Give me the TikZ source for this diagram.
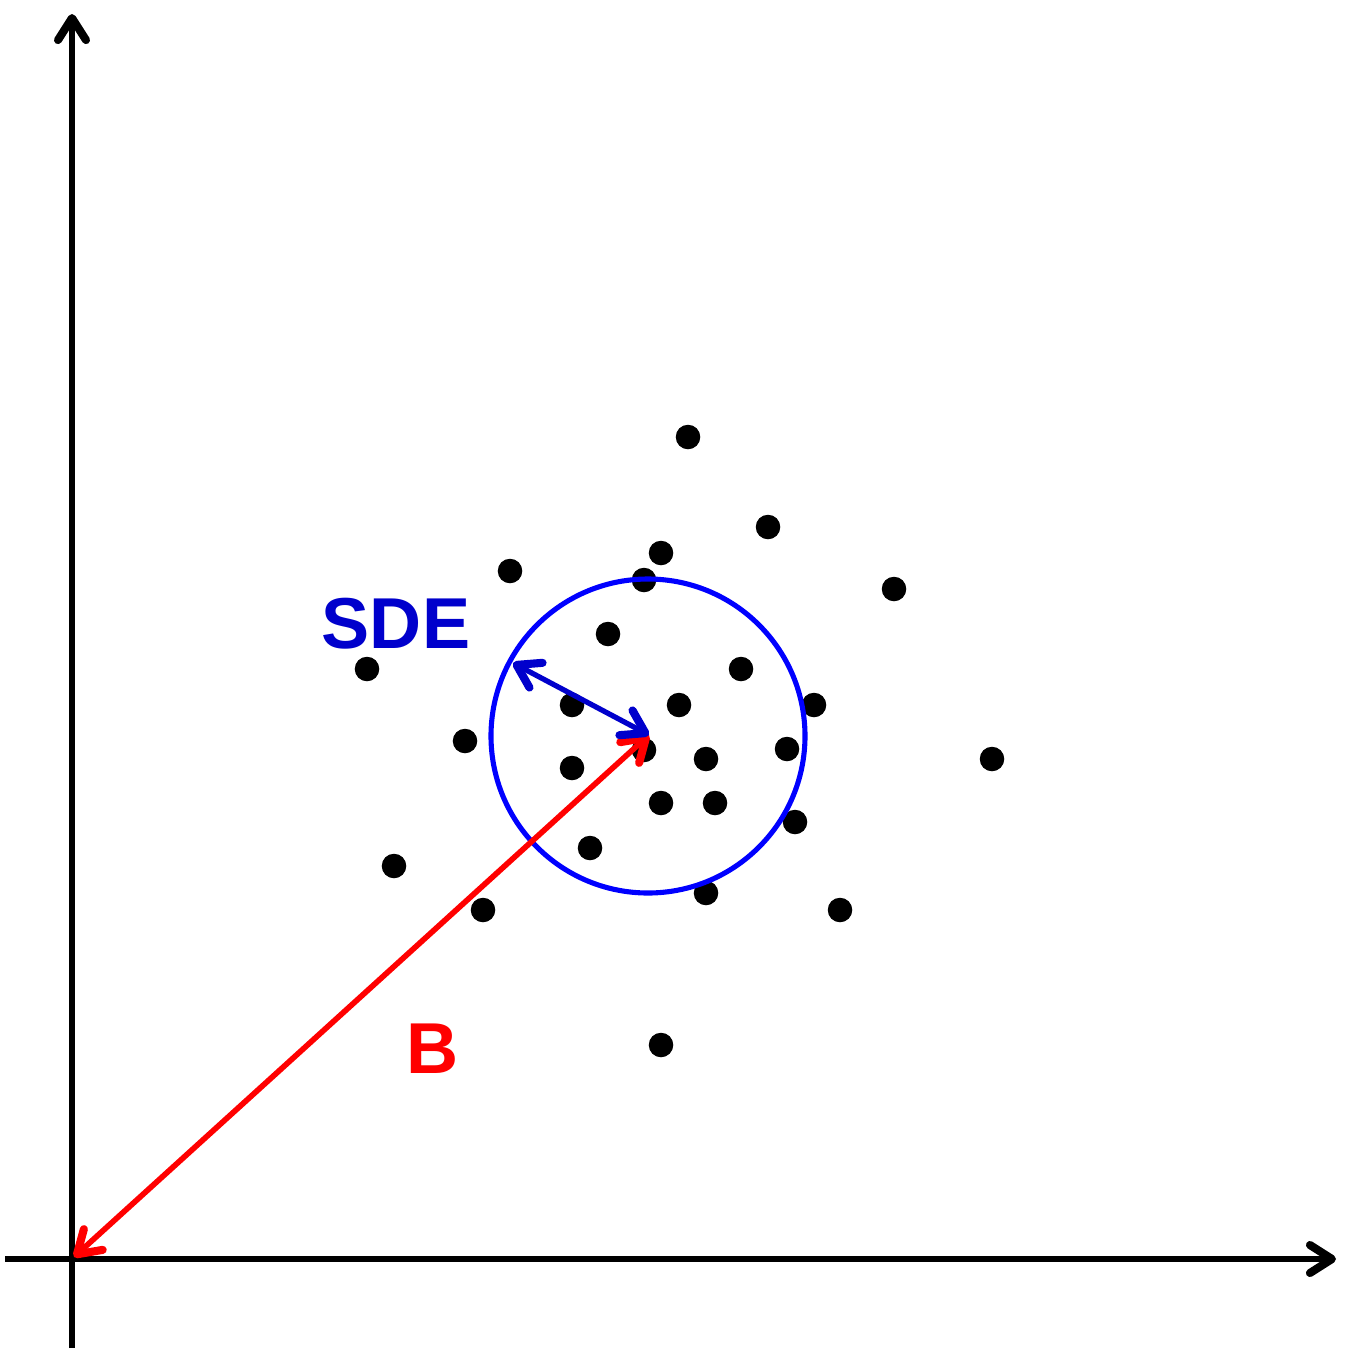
\documentclass[tikz,border=0pt]{standalone}
\usepackage{fontspec}
\setmainfont{Liberation Sans}
\usetikzlibrary{arrows.meta}
\begin{document}
\begin{tikzpicture}[x=0.01cm, y=-0.01cm,
  barb/.tip={Straight Barb[round, length=2.2mm, width=2.8mm, line width=2.3pt]},
  axis/.style={-barb, line width=1.85pt, black},
  dot/.style={circle, fill=black, inner sep=0pt, minimum size=0.245cm},
  lbl/.style={font=\fontsize{20.5}{24}\selectfont\bfseries}]
  \useasboundingbox (0,0) rectangle (1344,1354);
  % axes
  \coordinate (xs) at (5,1259); \coordinate (xe) at (1336,1259);
  \coordinate (ys) at (72,1348); \coordinate (ye) at (72,14);
  \draw[axis] (xs) -- (xe);
  \draw[axis] (ys) -- (ye);
  % data points
  \foreach \px/\py [count=\i] in {688/437, 768/527, 661/553, 510/571, 644/580, 894/589,
      608/634, 367/669, 741/669, 572/705, 679/705, 814/705, 465/741, 644/750, 787/749,
      706/759, 992/759, 572/768, 661/803, 715/803, 795/822, 590/848, 394/866, 706/893,
      483/910, 840/910, 661/1045}
    \node[dot] (p\i) at (\px,\py) {};
  % circle and arrows
  \coordinate (O) at (74,1257); \coordinate (C) at (649,735); \coordinate (R) at (513,663);
  \draw[blue, line width=1.45pt] (648,736) circle (157);
  \draw[barb-barb, red, line width=1.6pt] (O) -- (C);
  \draw[barb-barb, blue!80!black, line width=1.5pt] (R) -- (C);
  \node[lbl, text=blue!80!black] (sde) at (396,624) {SDE};
  \node[lbl, text=red] (b) at (433,1049) {B};
\end{tikzpicture}
\end{document}
